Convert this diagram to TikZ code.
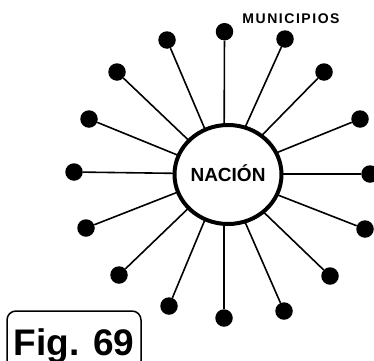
\documentclass[tikz,border=0pt]{standalone}
\usepackage{fontspec}
\setmainfont{Liberation Sans}
\usetikzlibrary{shapes.geometric}
\tikzset{
  muni/.style={circle, fill=black, inner sep=0pt, minimum size=17.5pt},
  spoke/.style={line width=1.6pt},
  figbox/.style={draw, line width=1.5pt, rounded corners=9pt, inner sep=0pt,
    minimum width=134pt, minimum height=68pt, text height=27pt, text depth=7pt,
    font=\fontsize{37}{37}\selectfont\bfseries},
}

\begin{document}
\begin{tikzpicture}[x=1pt, y=1pt]
  \useasboundingbox (0,0) rectangle (374,360);

  % Mittelpunkt der Strahlen
  \coordinate (hub) at (224,186);

  % Gemeinden rundherum, mit Strahl zur Mitte
  \foreach \i/\px/\py in {1/224.5/328.3, 2/285/321, 3/324/288, 4/360/241,
      5/370/186, 6/365/131, 7/330/84, 8/284/49, 9/224/42, 10/169/54,
      11/119/85, 12/86/132, 13/74/188, 14/89/241, 15/117/288, 16/167/320} {
    \node[muni] (m\i) at (\px,\py) {};
    \draw[spoke] (m\i) -- (hub);
  }

  % Nation in der Mitte
  \node[ellipse, draw, line width=4pt, fill=white, inner sep=0pt,
    minimum width=107pt, minimum height=99pt, text height=13.6pt, text depth=0pt,
    font=\fontsize{19}{19}\selectfont\bfseries] (nacion) at (228,185.5) {NACIÓN};

  % Beschriftung oben
  \node[font=\fontsize{14}{14}\selectfont\bfseries\addfontfeature{LetterSpace=11}]
    (municipios) at (291,341.7) {MUNICIPIOS};

  % Kasten unten links
  \node[figbox] (fig) at (74,15) {Fig. 69};

\end{tikzpicture}
\end{document}
